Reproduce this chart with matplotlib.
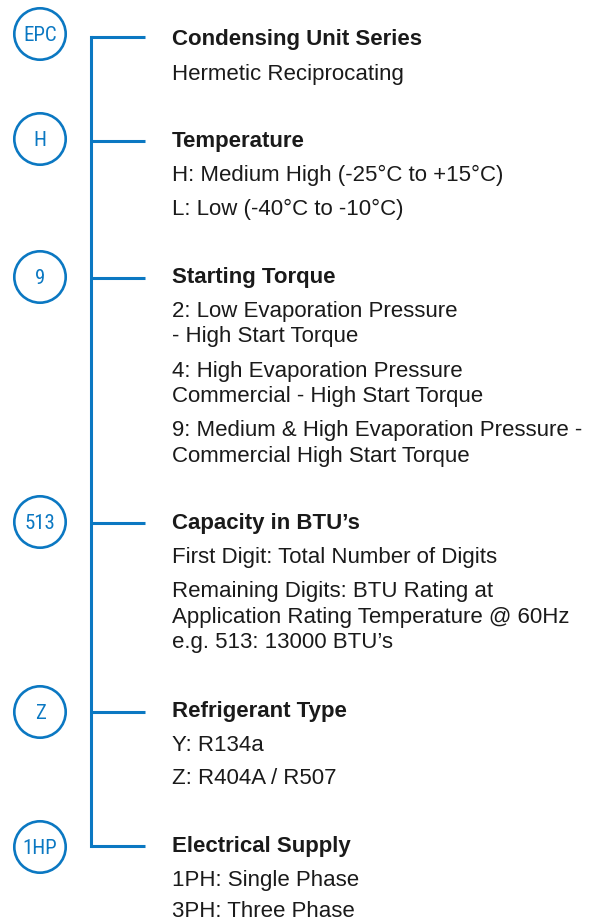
import matplotlib
matplotlib.use("Agg")
import matplotlib.pyplot as plt
from matplotlib.patches import Circle

# ---- data ----
codes = ["EPC", "H", "9", "513", "Z", "1HP"]
circle_rows = [34, 139, 277, 522, 712, 847]
branch_rows = [37, 141, 278, 523, 712, 846]
titles = ["Condensing Unit Series", "Temperature", "Starting Torque",
          "Capacity in BTU\u2019s", "Refrigerant Type", "Electrical Supply"]
title_baselines = [45, 147, 283, 529, 717, 852]
descriptions = [
    ["Hermetic Reciprocating"],
    ["H: Medium High (-25\u00b0C to +15\u00b0C)", "L: Low (-40\u00b0C to -10\u00b0C)"],
    ["2: Low Evaporation Pressure", "- High Start Torque",
     "4: High Evaporation Pressure", "Commercial - High Start Torque",
     "9: Medium & High Evaporation Pressure -", "Commercial High Start Torque"],
    ["First Digit: Total Number of Digits", "Remaining Digits: BTU Rating at",
     "Application Rating Temperature @ 60Hz", "e.g. 513: 13000 BTU\u2019s"],
    ["Y: R134a", "Z: R404A / R507"],
    ["1PH: Single Phase", "3PH: Three Phase"],
]
desc_baselines = [
    [80],
    [181, 215],
    [317, 342, 377, 402, 436, 462],
    [563, 597, 623, 648],
    [751, 784],
    [886, 917],
]

BLUE = "#0b78c2"
DARK = "#1a1a1a"
W, H = 593, 922

fig = plt.figure(figsize=(W / 100, H / 100), dpi=100)
ax = fig.add_axes([0, 0, 1, 1])
ax.set_xlim(0, W)
ax.set_ylim(H, 0)
ax.axis("off")

circle_x, radius = 40, 25.7
trunk_x, branch_end = 91, 145
text_x = 172

# trunk
ax.plot([trunk_x, trunk_x], [branch_rows[0], branch_rows[-1]], color=BLUE, lw=2.2,
        solid_capstyle="projecting")
for code, cy, by in zip(codes, circle_rows, branch_rows):
    ax.add_patch(Circle((circle_x, cy), radius, fill=False, ec=BLUE, lw=1.9))
    ax.text(circle_x, cy + 7, code, ha="center", va="baseline", color=BLUE,
            fontsize=15, family=["Roboto Condensed", "Roboto", "DejaVu Sans"])
    ax.plot([trunk_x, branch_end], [by, by], color=BLUE, lw=2.2, solid_capstyle="butt")

font = ["Liberation Sans", "DejaVu Sans"]
for t, ty, descs, drows in zip(titles, title_baselines, descriptions, desc_baselines):
    ax.text(text_x, ty, t, ha="left", va="baseline", color=DARK, fontsize=16,
            fontweight="bold", family=font)
    for d, dy in zip(descs, drows):
        ax.text(text_x, dy, d, ha="left", va="baseline", color=DARK, fontsize=16,
                family=font)

fig.savefig("out.png", dpi=100)
